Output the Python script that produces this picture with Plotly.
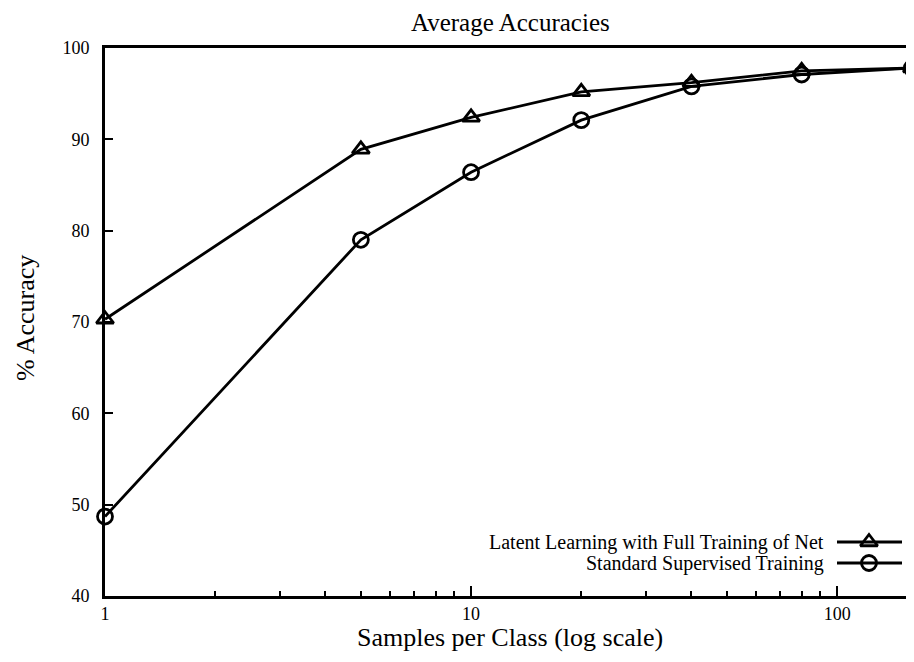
import plotly.graph_objects as go

samples = [1, 5, 10, 20, 40, 80, 160]
latent_acc = [70.3, 88.9, 92.4, 95.2, 96.2, 97.5, 97.8]
standard_acc = [48.7, 79.0, 86.4, 92.1, 95.8, 97.1, 97.8]
series_names = ["Latent Learning with Full Training of Net", "Standard Supervised Training"]
y_ticks = [40, 50, 60, 70, 80, 90, 100]
x_ticks = [1, 10, 100]
x_minor = [2, 3, 4, 5, 6, 7, 8, 9, 20, 30, 40, 50, 60, 70, 80, 90]

FONT = "Liberation Serif, Times New Roman, serif"
OFF = 8                      # default page body margin of the HTML
PAGE_W, PAGE_H = 914, 662
W, H = PAGE_W - OFF, PAGE_H - OFF
# plot area in page pixels
PX0, PX1, PY0, PY1 = 105, 914, 48, 596
L, R, T, B = PX0 - OFF, PAGE_W - PX1, PY0 - OFF, PAGE_H - PY1


def px(x):
    return (x - PX0) / (PX1 - PX0)


def py(y):
    return (PY1 - y) / (PY1 - PY0)


fig = go.Figure()
fig.add_trace(go.Scatter(
    x=samples, y=latent_acc, mode="lines+markers", name=series_names[0],
    line=dict(color="black", width=2.8),
    marker=dict(symbol="triangle-up-open", size=15, color="black", line=dict(width=2.8)),
    cliponaxis=False, showlegend=False))
fig.add_trace(go.Scatter(
    x=samples, y=standard_acc, mode="lines+markers", name=series_names[1],
    line=dict(color="black", width=2.8),
    marker=dict(symbol="circle-open", size=15, color="black", line=dict(width=2.8)),
    cliponaxis=False, showlegend=False))

# legend keys (drawn on a page-pixel overlay axis)
key_rows = [542, 563]
key_symbols = ["triangle-up-open", "circle-open"]
for name, row, sym in zip(series_names, key_rows, key_symbols):
    fig.add_trace(go.Scatter(x=[837, 902], y=[row, row], mode="lines", xaxis="x2", yaxis="y2",
                             line=dict(color="black", width=2.8), showlegend=False, hoverinfo="skip"))
    fig.add_trace(go.Scatter(x=[869], y=[row], mode="markers", xaxis="x2", yaxis="y2",
                             marker=dict(symbol=sym, size=15, color="black", line=dict(width=2.8)),
                             showlegend=False, hoverinfo="skip", cliponaxis=False))
    fig.add_annotation(x=px(826), y=py(row), xref="paper", yref="paper", text=name, showarrow=False,
                       xanchor="right", yanchor="middle", font=dict(family=FONT, size=20, color="black"))

# axis titles
fig.add_annotation(x=px(510), y=py(637), xref="paper", yref="paper", text="Samples per Class (log scale)",
                   showarrow=False, xanchor="center", yanchor="middle",
                   font=dict(family=FONT, size=26, color="black"))
fig.add_annotation(x=px(25), y=py(318), xref="paper", yref="paper", text="% Accuracy",
                   showarrow=False, xanchor="center", yanchor="middle", textangle=-90,
                   font=dict(family=FONT, size=26, color="black"))
# chart title
fig.add_annotation(x=px(510), y=py(23), xref="paper", yref="paper", text="Average Accuracies",
                   showarrow=False, xanchor="center", yanchor="middle", borderpad=0,
                   font=dict(family=FONT, size=25, color="black"))

fig.update_layout(
    width=W, height=H,
    margin=dict(l=L, r=R, t=T, b=B),
    paper_bgcolor="white", plot_bgcolor="white",
    font=dict(family=FONT, color="black"),
    xaxis=dict(type="log", range=[0, 2.21], tickvals=x_ticks, ticktext=[str(v) for v in x_ticks],
               ticks="inside", ticklen=10, tickwidth=2, tickcolor="black",
               showline=True, linewidth=2.6, linecolor="black", mirror=True,
               showgrid=False, zeroline=False, automargin=False,
               tickfont=dict(family=FONT, size=18, color="black"),
               minor=dict(tickvals=x_minor, ticks="inside", ticklen=5, tickwidth=2, tickcolor="black", showgrid=False)),
    yaxis=dict(range=[40, 100], tickvals=y_ticks,
               ticks="inside", ticklen=8, tickwidth=2, tickcolor="black",
               showline=True, linewidth=2.6, linecolor="black", mirror=False,
               showgrid=False, zeroline=False, automargin=False, ticklabelstandoff=9,
               tickfont=dict(family=FONT, size=18, color="black")),
    xaxis2=dict(overlaying="x", anchor="y2", range=[PX0, PX1], visible=False, fixedrange=True),
    yaxis2=dict(overlaying="y", anchor="x2", range=[PY1, PY0], visible=False, fixedrange=True),
)

fig.write_html("out.html")
